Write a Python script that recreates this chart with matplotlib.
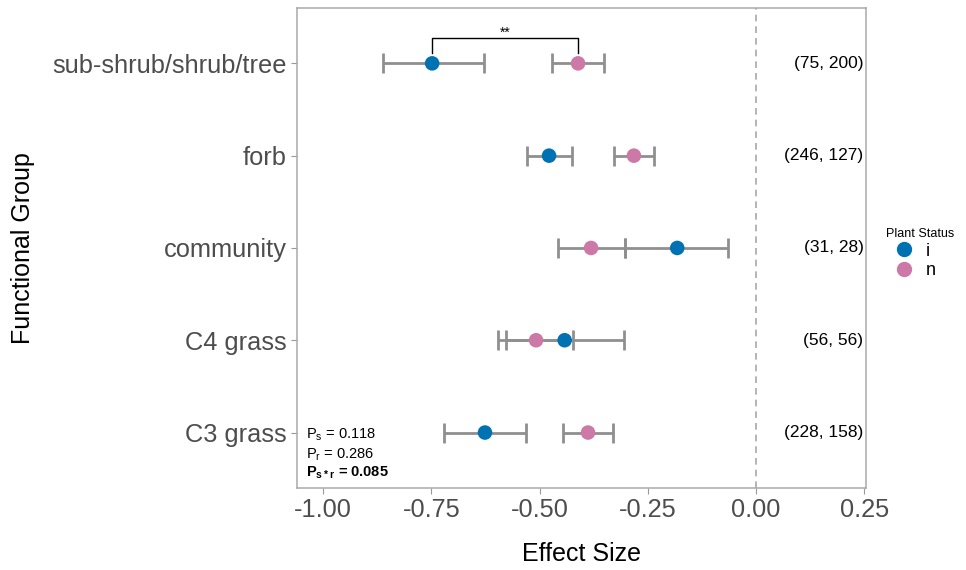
import matplotlib
matplotlib.use("Agg")
import matplotlib.pyplot as plt
from matplotlib.lines import Line2D

plt.rcParams['font.family'] = ['Liberation Sans', 'DejaVu Sans']
plt.rcParams['mathtext.fontset'] = 'custom'
plt.rcParams['mathtext.rm'] = 'Liberation Sans'
plt.rcParams['mathtext.bf'] = 'Liberation Sans:bold'

# functional groups, bottom to top
groups = ["C3 grass", "C4 grass", "community", "forb", "sub-shrub/shrub/tree"]
counts = ["(228, 158)", "(56, 56)", "(31, 28)", "(246, 127)", "(75, 200)"]

# invasive (i) estimates and CIs
i_mean = [-0.626, -0.442, -0.182, -0.478, -0.748]
i_low = [-0.721, -0.577, -0.303, -0.529, -0.861]
i_high = [-0.531, -0.305, -0.065, -0.425, -0.628]

# native (n) estimates and CIs
n_mean = [-0.388, -0.508, -0.381, -0.282, -0.411]
n_low = [-0.446, -0.595, -0.458, -0.328, -0.471]
n_high = [-0.330, -0.422, -0.303, -0.236, -0.351]

col_i = "#0072B2"
col_n = "#CC79A7"
bar_col = "#8f8f8f"
tick_col = "#4d4d4d"

fig = plt.figure(figsize=(9.66, 5.70), dpi=100)
ax = fig.add_axes([0.3075, 0.144, 0.589, 0.842])

ypos = list(range(1, len(groups) + 1))

for mean, lo, hi, c in [(i_mean, i_low, i_high, col_i), (n_mean, n_low, n_high, col_n)]:
    err = [[m - l for m, l in zip(mean, lo)], [h - m for m, h in zip(mean, hi)]]
    ax.errorbar(mean, ypos, xerr=err, fmt='none', ecolor=bar_col, elinewidth=2,
                capsize=7, capthick=2, zorder=2)
    ax.scatter(mean, ypos, s=110, color=c, zorder=3, edgecolors='none')

ax.axvline(0, color="#a8a8a8", linestyle=(0, (4, 3)), linewidth=1.2, zorder=1)

# count labels
for y, t in zip(ypos, counts):
    ax.text(0.248, y, t, ha='right', va='center', fontsize=12.5, color='black')

# significance bracket on top row
top = ypos[-1]
ax.plot([i_mean[-1], i_mean[-1], n_mean[-1], n_mean[-1]],
        [top + 0.11, top + 0.27, top + 0.27, top + 0.11], color='black', linewidth=1)
ax.text((i_mean[-1] + n_mean[-1]) / 2, top + 0.26, "**", ha='center', va='bottom', fontsize=10)

# p-values
ax.text(-1.04, 0.98, r"P$_\mathregular{s}$ = 0.118", fontsize=10.5, va='center')
ax.text(-1.04, 0.765, r"P$_\mathregular{r}$ = 0.286", fontsize=10.5, va='center')
ax.text(-1.04, 0.565, r"$\mathbf{P_{s*r}}$ = 0.085", fontsize=10.5, va='center', fontweight='bold')

ax.set_xlim(-1.06, 0.254)
ax.set_ylim(0.4, 5.6)
ax.set_xticks([-1.0, -0.75, -0.5, -0.25, 0.0, 0.25])
ax.set_xticklabels(["-1.00", "-0.75", "-0.50", "-0.25", "0.00", "0.25"])
ax.set_yticks(ypos)
ax.set_yticklabels(groups)
ax.tick_params(axis='both', labelsize=18.3, colors=tick_col, length=4, width=0.8)
ax.tick_params(axis='both', color="#999999")
for s in ax.spines.values():
    s.set_color("#aaaaaa")
    s.set_linewidth(1.1)

ax.set_xlabel("Effect Size", fontsize=18, labelpad=14)
ax.set_ylabel("Functional Group", fontsize=18, labelpad=8)
ax.yaxis.set_label_coords(-0.46, 0.5)

handles = [Line2D([], [], marker='o', linestyle='none', color=col_i, markersize=10),
           Line2D([], [], marker='o', linestyle='none', color=col_n, markersize=10)]
leg = fig.legend(handles, ["i", "n"], title="Plant Status", loc='center left',
                 bbox_to_anchor=(0.9, 0.555), frameon=False, fontsize=13,
                 title_fontsize=9, handletextpad=0.2, labelspacing=0.15)
leg._legend_box.align = "left"

fig.savefig("out.png", dpi=100)
